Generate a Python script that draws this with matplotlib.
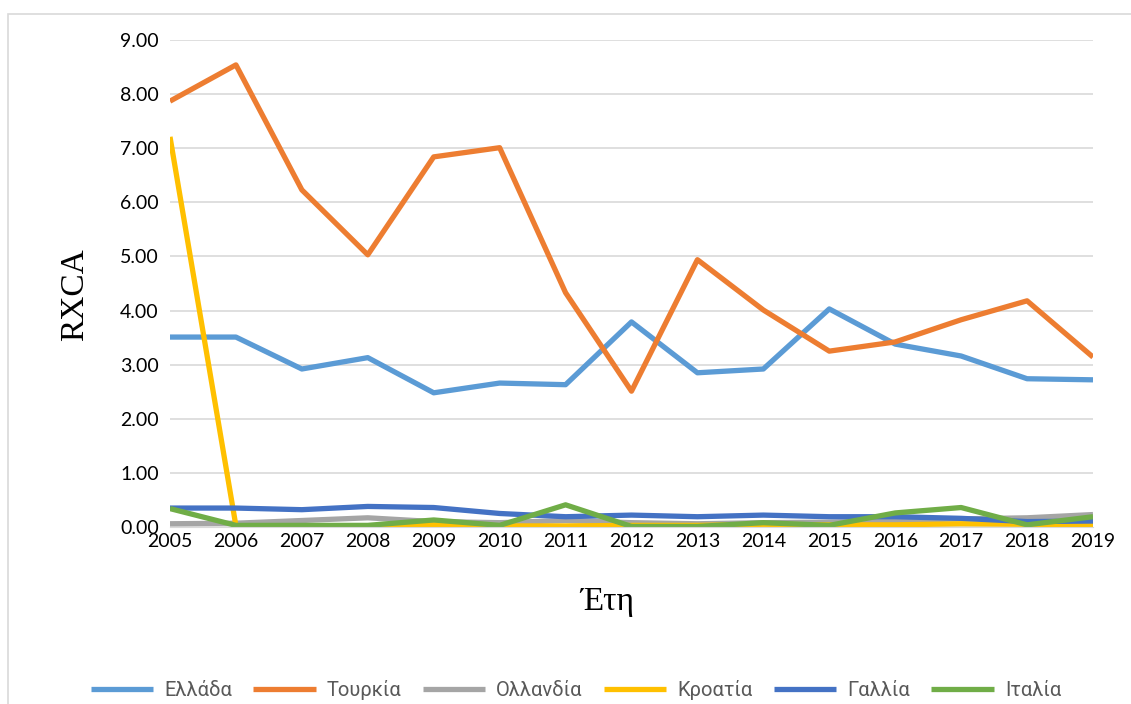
import matplotlib.pyplot as plt
from matplotlib.patches import Rectangle
import numpy as np

years = list(range(2005, 2020))

greece = [3.51, 3.51, 2.92, 3.13, 2.48, 2.66, 2.63, 3.79, 2.85, 2.92, 4.03, 3.38, 3.16, 2.74, 2.72]
turkey = [7.87, 8.54, 6.23, 5.03, 6.84, 7.01, 4.33, 2.51, 4.94, 4.01, 3.25, 3.42, 3.83, 4.18, 3.14]
netherlands = [0.06, 0.07, 0.12, 0.17, 0.10, 0.08, 0.12, 0.08, 0.06, 0.08, 0.09, 0.12, 0.15, 0.17, 0.23]
croatia = [7.21, 0.02, 0.01, 0.01, 0.04, 0.02, 0.02, 0.03, 0.03, 0.05, 0.04, 0.04, 0.06, 0.05, 0.04]
france = [0.35, 0.35, 0.32, 0.38, 0.36, 0.25, 0.19, 0.22, 0.19, 0.22, 0.19, 0.19, 0.16, 0.10, 0.11]
italy = [0.34, 0.03, 0.03, 0.03, 0.13, 0.03, 0.41, 0.01, 0.01, 0.08, 0.03, 0.26, 0.36, 0.04, 0.19]

labels = ["Ελλάδα", "Τουρκία", "Ολλανδία", "Κροατία", "Γαλλία", "Ιταλία"]
colors = ["#5B9BD5", "#ED7D31", "#A5A5A5", "#FFC000", "#4472C4", "#70AD47"]
series = [greece, turkey, netherlands, croatia, france, italy]

fig = plt.figure(figsize=(11.31, 7.04), dpi=100)
# light frame round the whole chart area
fig.patches.append(Rectangle((8 / 1131, -0.01), 1.2, 1 - 14 / 704 + 0.01,
                             transform=fig.transFigure, fill=False,
                             edgecolor="#D9D9D9", linewidth=1.2))

ax = fig.add_axes([170 / 1131, 1 - 527 / 704, (1093 - 170) / 1131, (527 - 40) / 704])

for vals, lab, col in zip(series, labels, colors):
    ax.plot(years, vals, color=col, lw=3.8, label=lab, solid_capstyle="butt")

ax.set_xlim(2005, 2019)
ax.set_ylim(0, 9)
ax.set_yticks(np.arange(0, 9.01, 1))
ax.set_yticklabels([f"{v:.2f}" for v in np.arange(0, 9.01, 1)])
ax.set_xticks(years)
ax.grid(axis="y", color="#D9D9D9", lw=1.2)
ax.set_axisbelow(True)
for s in ["top", "right", "left"]:
    ax.spines[s].set_visible(False)
ax.spines["bottom"].set_color("#D9D9D9")
ax.tick_params(length=0, labelsize=14, pad=8)
ax.tick_params(axis="x", pad=4)
for t in ax.get_xticklabels() + ax.get_yticklabels():
    t.set_family("Lato")

fig.text(75 / 1131, 1 - 295 / 704, "RXCA", rotation=90, ha="center", va="center",
         family="Liberation Serif", fontsize=24)
fig.text(607 / 1131, 1 - 602 / 704, "Έτη", ha="center", va="center",
         family="Liberation Serif", fontsize=24)

leg = fig.legend(loc="center", bbox_to_anchor=(576 / 1131, 1 - 690 / 704), ncol=6,
                 frameon=False, handlelength=3.1, columnspacing=1.05, handletextpad=0.55,
                 prop={"family": "Roboto", "size": 14.5})
for t in leg.get_texts():
    t.set_color("#595959")

fig.savefig("out.png", dpi=100)
